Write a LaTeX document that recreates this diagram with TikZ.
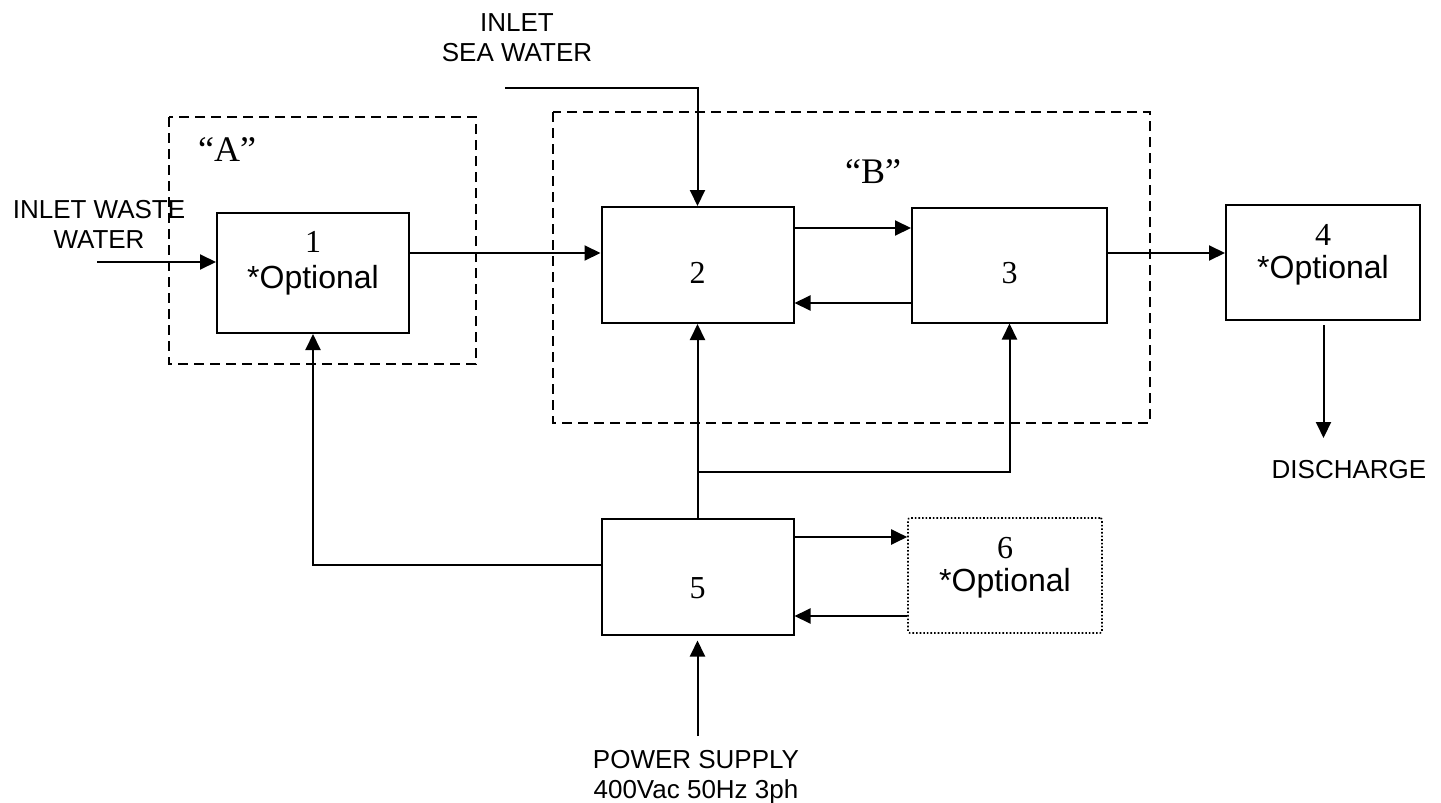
\documentclass[tikz,border=0pt]{standalone}
\usepackage{fontspec}
\setmainfont{Liberation Sans}
\newfontfamily\serifnum{Liberation Serif}
\usetikzlibrary{arrows.meta,calc}
\begin{document}
\begin{tikzpicture}[x=1pt,y=-1pt,
  blk/.style={draw,line width=2pt,inner sep=0pt},
  grp/.style={draw,line width=1.8pt,dash pattern=on 10pt off 6pt},
  arr/.style={line width=2pt,-{Triangle[length=16pt,width=15pt]}},
  lbl/.style={font=\fontsize{26}{30}\selectfont,inner sep=0pt,align=center},
  opt/.style={font=\fontsize{32}{36}\selectfont,inner sep=0pt},
  num/.style={font=\serifnum\fontsize{32}{36}\selectfont,inner sep=0pt},
  grl/.style={font=\serifnum\fontsize{36}{40}\selectfont,inner sep=0pt}]
\useasboundingbox (0,0) rectangle (1441,803);
\fill[white] (0,0) rectangle (1441,803);
% groups
\draw[grp] (169,117) rectangle (476,364);
\draw[grp] (553,112) rectangle (1150,423);
\node[grl] (lA) at (227,150) {“A”};
\node[grl] (lB) at (873,172) {“B”};
% boxes
\node[blk,minimum width=192pt,minimum height=120pt] (b1) at (313,273) {};
\node[blk,minimum width=192pt,minimum height=116pt] (b2) at (697.5,265) {};
\node[blk,minimum width=195pt,minimum height=115pt] (b3) at (1009.5,265) {};
\node[blk,minimum width=194pt,minimum height=115pt] (b4) at (1323,262.5) {};
\node[blk,minimum width=192pt,minimum height=116pt] (b5) at (697.5,577) {};
\node[draw,dotted,line width=1.6pt,rounded corners=2pt,minimum width=194pt,minimum height=115pt,inner sep=0pt] (b6) at (1005,575.5) {};
% box texts
\node[num] (t1) at (313,242) {1};
\node[opt] (o1) at (313,280) {*Optional};
\node[num] (t2) at (697.5,273) {2};
\node[num] (t3) at (1009.5,273) {3};
\node[num] (t4) at (1323,235) {4};
\node[opt] (o4) at (1323,270) {*Optional};
\node[num] (t5) at (697.5,588) {5};
\node[num] (t6) at (1005,548) {6};
\node[opt] (o6) at (1005,583) {*Optional};
% outside labels
\node[lbl] (waste) at (99,224) {INLET WASTE\\WATER};
\node[lbl] (sea) at (517,37.5) {INLET\\SEA WATER};
\node[lbl] (dis) at (1349,470) {DISCHARGE};
\node[lbl] (pow) at (696,777.5) {POWER SUPPLY\\400Vac 50Hz 3ph};
% coordinates
\coordinate (ws) at (97,262);
\coordinate (ss) at (505,88);
\coordinate (ds) at (1323.5,325);
\coordinate (de) at (1323.5,438);
\coordinate (ps) at (697.5,736);
\coordinate (pe) at (697.5,640.5);
\coordinate (jn) at (697.5,471.5);
% connectors
\draw[arr] (ws) -- (ws -| b1.west);
\draw[arr] (b1.east |- 0,253) -- (b2.west |- 0,253);
\draw[arr] (ss) -| (b2.north);
\draw[arr] (b2.east |- 0,228) -- (b3.west |- 0,228);
\draw[arr] (b3.west |- 0,303) -- (b2.east |- 0,303);
\draw[arr] (b3.east |- 0,253) -- (b4.west |- 0,253);
\draw[arr] (ds) -- (de);
\draw[arr] (b5.north) -- (b2.south);
\draw[arr] (jn) -| (b3.south);
\draw[arr] (b5.west |- 0,565) -| (b1.south);
\draw[arr] (b5.east |- 0,537) -- (b6.west |- 0,537);
\draw[arr] (b6.west |- 0,616) -- (b5.east |- 0,616);
\draw[arr] (ps) -- (pe);
\end{tikzpicture}
\end{document}
